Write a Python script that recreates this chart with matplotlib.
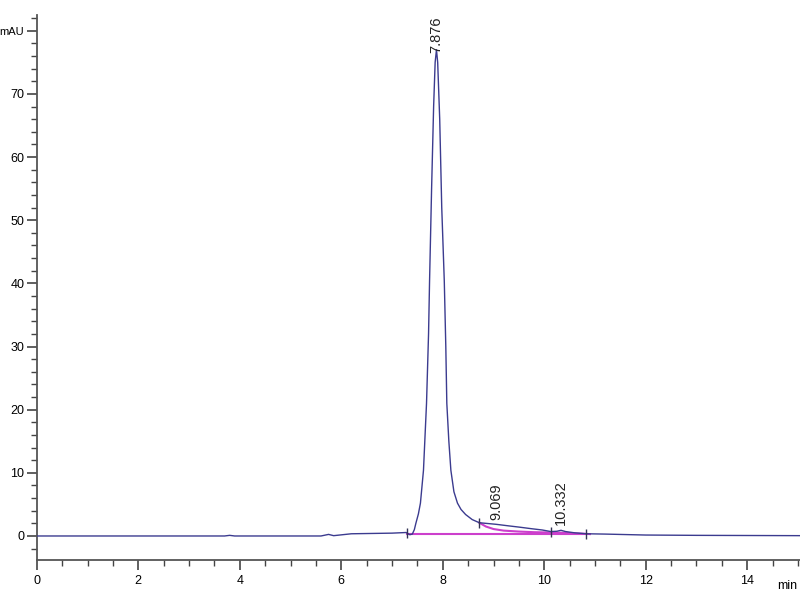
import matplotlib
matplotlib.use("Agg")
import matplotlib.pyplot as plt
from matplotlib.ticker import MultipleLocator

plt.rcParams["font.family"] = ["Liberation Sans", "DejaVu Sans"]

# signal trace (min, mAU)
time_min = [0.0, 3.7, 3.8, 3.9, 5.6, 5.75, 5.85, 6.2, 7.0, 7.28, 7.35, 7.40,
            7.44, 7.47, 7.52, 7.56, 7.62, 7.68, 7.72, 7.74, 7.78, 7.82, 7.85,
            7.876, 7.90, 7.94, 7.98, 8.03, 8.06, 8.08, 8.12, 8.16, 8.22, 8.29,
            8.36, 8.45, 8.58, 8.72, 8.85, 9.05, 9.3, 9.51, 9.75, 9.96, 10.13,
            10.25, 10.33, 10.42, 10.6, 10.83, 11.2, 12.0, 13.0, 15.1]
signal_mau = [0.0, 0.0, 0.1, 0.0, 0.0, 0.25, 0.05, 0.35, 0.45, 0.55, 0.2, 0.3,
              1.0, 2.0, 3.5, 5.2, 10.4, 21.0, 32.0, 40.4, 55.0, 68.0, 75.0,
              77.0, 75.0, 66.0, 52.0, 40.4, 30.0, 21.0, 15.0, 10.4, 7.0, 5.2,
              4.2, 3.4, 2.6, 2.1, 2.0, 1.85, 1.6, 1.4, 1.15, 0.95, 0.7,
              0.75, 0.9, 0.7, 0.5, 0.35, 0.3, 0.15, 0.1, 0.05]

# integration baselines
base_t = [7.30, 10.83]
base_y = [0.35, 0.35]
skim1_t = [8.72, 8.85, 9.0, 9.2, 9.5, 9.8, 10.13]
skim1_y = [2.1, 1.5, 1.1, 0.85, 0.7, 0.6, 0.55]
skim2_t = [10.13, 10.4, 10.6, 10.9]
skim2_y = [0.55, 0.5, 0.42, 0.3]

# peak event marks and labels
event_t = [7.30, 8.72, 10.13, 10.83]
event_y = [0.5, 2.1, 0.7, 0.25]
peak_labels = ["7.876", "9.069", "10.332"]
label_t = [7.876, 9.05, 10.33]
label_y = [76.5, 2.5, 1.7]

fig = plt.figure(figsize=(8, 6), dpi=100)
ax = fig.add_axes([0.046, 0.0667, 0.954, 0.9083])

ax.plot(time_min, signal_mau, color="#3b3b8f", lw=1.0, zorder=3)
ax.plot(base_t, base_y, color="#cc3fcc", lw=1.5, zorder=2)
ax.plot(skim1_t, skim1_y, color="#cc3fcc", lw=1.5, zorder=2)
ax.plot(skim2_t, skim2_y, color="#cc3fcc", lw=1.5, zorder=2)
ax.plot(event_t, event_y, ls="none", marker="|", ms=7, mew=1.0,
        color="#333355", zorder=4)

for txt, t, y in zip(peak_labels, label_t, label_y):
    ax.text(t, y, txt, rotation=90, ha="center", va="bottom",
            fontsize=10.5, color="#222222")

ax.set_xlim(0, 15.04)
ax.set_ylim(-3.8, 82.5)

ax.xaxis.set_major_locator(MultipleLocator(2))
ax.xaxis.set_minor_locator(MultipleLocator(0.5))
ax.yaxis.set_major_locator(MultipleLocator(10))
ax.yaxis.set_minor_locator(MultipleLocator(2))

yt = list(range(0, 90, 10))
ax.set_yticks(yt)
ax.set_yticklabels([str(v) for v in yt[:-1]] + ["mAU"])

for s in ["top", "right"]:
    ax.spines[s].set_visible(False)
for s in ["left", "bottom"]:
    ax.spines[s].set_color("#555555")
    ax.spines[s].set_linewidth(1.3)

ax.tick_params(axis="both", which="major", length=7, width=1.2,
               color="#444444", labelsize=9)
ax.tick_params(axis="both", which="minor", length=4, width=1.0,
               color="#444444")
ax.tick_params(axis="x", pad=4)
ax.tick_params(axis="y", pad=2)
ax.get_yticklabels()[-1].set_fontsize(8)

ax.text(14.78, -0.037, "min", transform=ax.get_xaxis_transform(),
        ha="center", va="top", fontsize=9)

fig.savefig("out.png", dpi=100)
